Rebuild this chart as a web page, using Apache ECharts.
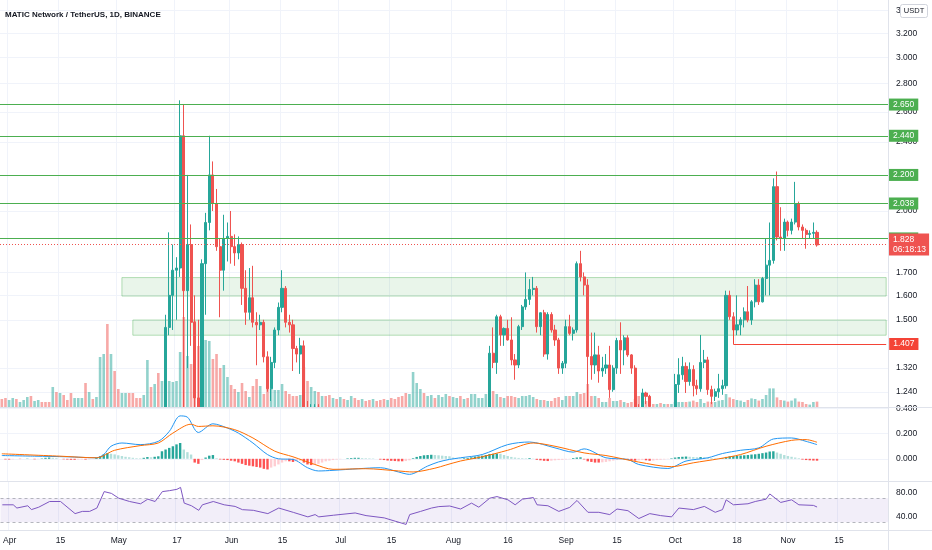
<!DOCTYPE html>
<html><head><meta charset="utf-8">
<script src="https://cdn.jsdelivr.net/npm/echarts@6/dist/echarts.min.js"></script>
<style>html,body{margin:0;padding:0;background:#fff}#c{width:932px;height:550px}</style>
</head><body><div id="c"></div>
<script>
// ---------- categories & ticks ----------
const startDate = '2021-03-30';
const dayCount = 244;
const tickDates = ['2021-04-01','2021-04-15','2021-05-01','2021-05-17','2021-06-01','2021-06-15','2021-07-01','2021-07-15','2021-08-01','2021-08-16','2021-09-01','2021-09-15','2021-10-01','2021-10-18','2021-11-01','2021-11-15'];
const tickLabels = ['Apr','15','May','17','Jun','15','Jul','15','Aug','16','Sep','15','Oct','18','Nov','15'];
const priceTicks = [1.24,1.32,1.5,1.6,1.7,2.0,2.2,2.4,2.6,2.8,3.0,3.2,3.4];
const macdTicks = [0, 0.2, 0.4];
const rsiTicks = [40, 80];

// ---------- price candles [open, close, low, high] ----------
const candlesMayJunStart = '2021-05-14';
const candlesMayJun = [
[1.05,1.47,1.00,1.52],[1.47,1.60,1.44,1.89],[1.60,1.71,1.46,1.83],[1.71,1.72,1.50,1.77],[1.72,2.44,1.68,2.68],
[2.44,1.62,1.05,2.65],[1.62,1.83,1.32,2.20],[1.83,1.49,1.40,1.93],[1.49,1.22,1.15,1.60],[1.22,1.10,0.95,1.50],
[1.10,1.74,1.05,1.76],[1.74,1.94,1.52,1.99],[1.94,2.20,1.90,2.44],[2.20,2.04,2.00,2.28],[2.04,1.82,1.80,2.12],
[1.82,1.71,1.51,1.86],[1.71,1.86,1.62,1.98],[1.86,1.87,1.75,1.94],[1.87,1.82,1.74,2.00],[1.82,1.79,1.73,1.88],
[1.79,1.83,1.76,1.87],[1.83,1.63,1.56,1.84],[1.63,1.53,1.48,1.71],[1.53,1.59,1.50,1.72],[1.59,1.49,1.47,1.73],
[1.49,1.48,1.33,1.53],[1.48,1.49,1.46,1.52],[1.49,1.36,1.34,1.50],[1.36,1.25,1.24,1.38],[1.25,1.34,1.21,1.36],
[1.34,1.46,1.32,1.47],[1.46,1.55,1.44,1.57],[1.55,1.63,1.53,1.71],[1.63,1.49,1.47,1.64],[1.49,1.48,1.45,1.52],
[1.48,1.39,1.31,1.50],[1.39,1.37,1.34,1.40],[1.37,1.40,1.30,1.43],[1.40,1.17,1.12,1.42],[1.17,1.10,1.00,1.21],
[1.10,1.17,1.08,1.20],[1.17,1.19,1.12,1.20],[1.19,1.15,1.12,1.20],[1.15,1.17,1.13,1.19],[1.17,1.12,1.10,1.18]
];
const candlesAugSepStart = '2021-08-11';
const candlesAugSep = [
[1.15,1.373,1.12,1.40],[1.373,1.34,1.32,1.47],[1.34,1.512,1.30,1.52],[1.512,1.441,1.40,1.52],[1.441,1.466,1.40,1.47],
[1.466,1.422,1.42,1.50],[1.422,1.349,1.33,1.51],[1.349,1.331,1.28,1.37],[1.331,1.473,1.32,1.48],[1.473,1.552,1.46,1.56],
[1.552,1.583,1.54,1.70],[1.583,1.625,1.56,1.67],[1.625,1.630,1.60,1.68],[1.63,1.473,1.45,1.64],[1.473,1.528,1.44,1.53],
[1.528,1.37,1.36,1.54],[1.37,1.521,1.35,1.53],[1.521,1.46,1.45,1.53],[1.46,1.422,1.40,1.48],[1.422,1.32,1.30,1.43],
[1.32,1.337,1.30,1.345],[1.337,1.473,1.32,1.50],[1.473,1.447,1.44,1.52],[1.447,1.46,1.42,1.47],[1.46,1.74,1.45,1.75],
[1.74,1.68,1.66,1.80],[1.68,1.644,1.60,1.70],[1.644,1.361,1.19,1.67],[1.361,1.331,1.28,1.45],[1.331,1.367,1.30,1.45],
[1.367,1.31,1.27,1.40],[1.31,1.32,1.29,1.36],[1.32,1.331,1.30,1.37],[1.331,1.247,1.22,1.40],[1.247,1.32,1.24,1.33],
[1.32,1.42,1.30,1.43],[1.42,1.385,1.30,1.49],[1.385,1.43,1.33,1.44],[1.43,1.367,1.36,1.44],[1.367,1.32,1.30,1.37],
[1.32,1.188,1.16,1.33],[1.188,1.15,1.12,1.20],[1.15,1.236,1.14,1.25],[1.236,1.225,1.20,1.24],[1.225,1.193,1.17,1.23]
];
const candlesOctNovStart = '2021-10-01';
const candlesOctNov = [
[1.17,1.264,1.16,1.30],[1.264,1.297,1.236,1.355],[1.297,1.326,1.28,1.36],[1.326,1.274,1.236,1.34],
[1.274,1.315,1.26,1.34],[1.315,1.26,1.225,1.33],[1.26,1.25,1.23,1.28],[1.25,1.34,1.24,1.441],[1.34,1.349,1.32,1.385],
[1.349,1.247,1.23,1.36],[1.247,1.225,1.20,1.26],[1.225,1.24,1.21,1.25],[1.24,1.25,1.22,1.30],[1.25,1.26,1.23,1.28],
[1.26,1.60,1.25,1.62],[1.60,1.512,1.50,1.62],[1.512,1.46,1.44,1.53],[1.46,1.48,1.44,1.60],[1.48,1.50,1.44,1.51],
[1.50,1.532,1.47,1.55],[1.532,1.499,1.49,1.64],[1.499,1.573,1.48,1.58],[1.573,1.644,1.55,1.67],[1.644,1.573,1.56,1.67],
[1.573,1.673,1.57,1.68],[1.673,1.733,1.60,1.858],[1.733,1.755,1.60,1.94],[1.755,2.133,1.74,2.18],[2.133,1.867,1.85,2.22],
[1.867,1.86,1.80,2.02],[1.86,1.942,1.80,1.96],[1.942,1.90,1.87,1.95],[1.90,1.942,1.88,1.96],[1.942,2.038,1.93,2.16],
[2.038,1.917,1.90,2.05],[1.917,1.90,1.86,1.93],[1.90,1.88,1.81,1.91],[1.88,1.885,1.86,1.90],[1.885,1.89,1.86,1.94],
[1.89,1.828,1.82,1.90]
];

// ---------- volume (millions), from 2021-03-30 ----------
const volumes = [
40,45,35,45,40,25,35,50,55,30, 35,25,25,25,100,75,70,60,35,70, 45,45,45,120,75,40,50,250,265,415,
265,180,90,70,70,70,70,45,45,60, 235,100,115,170,130,230,130,125,130,275, 450,255,215,430,305,320,335,330,240,265,
195,210,150,110,90,75,120,80,50,105, 140,105,65,115,90,85,85,115,80,65, 55,55,60,200,130,100,80,75,55,55,
60,45,40,50,40,35,55,45,35,40, 30,35,40,30,35,40,35,45,40,50, 55,70,65,175,120,90,70,55,60,45,
60,50,65,55,50,45,55,40,45,65, 65,45,45,65,90,80,65,50,45,55, 55,50,45,55,55,60,50,40,35,35,
30,30,45,50,35,55,55,55,75,65, 70,115,55,55,45,25,25,45,30,30, 35,25,20,25,40,55,35,30,25,15,
15,20,15,15,15,25,25,25,25,27, 32,25,40,20,27,25,25,32,35,65, 48,40,35,32,25,35,43,40,32,40,
60,93,93,48,35,32,27,32,43,27, 25,15,12,25,27
];
// up/down of volume bars on days whose candle is off the chart (from 2021-03-30)
const volDirs = ('dduuduuudu udddududdd uuududuuud udduuddddu ududuuuuuu duddduuudd duudduddud dudduuuudd ddudduudud ' +
  'dududuuddu ddudddu ddd dduuuuduud uuuduududu uuuu uuuuuuuuuu uuuuuuuuuu uuuuuuuuuu uuuuuuuuuu uuuuu dudu du').replace(/ /g,'');

// ---------- MACD (12,26,9): points [day from Apr 1, value] ----------
const macdPts = [[-2,0.026],[7,0.021],[16,0.016],[24,0.008],[26,0.034],[28,0.10],[31,0.126],[36,0.113],[41,0.139],[44,0.218],
[47,0.342],[49,0.332],[52,0.21],[56,0.279],[60,0.245],[63,0.205],[67,0.126],[71,0.034],[74,0.0],[78,-0.005],[82,-0.071],
[85,-0.097],[89,-0.092],[96,-0.079],[102,-0.071],[107,-0.105],[110,-0.124],[115,-0.058],[118,-0.025],[121,-0.005],[124,0.008],
[130,0.034],[137,0.113],[143,0.134],[150,0.087],[155,0.053],[158,0.079],[164,0.008],[170,-0.005],[173,-0.045],[181,-0.077],
[186,-0.018],[192,0.008],[196,0.042],[201,0.068],[206,0.087],[210,0.158],[215,0.166],[219,0.139],[222,0.113]];
const signalPts = [[-2,0.04],[14,0.021],[24,0.008],[29,0.068],[36,0.105],[41,0.126],[45,0.205],[50,0.276],[52,0.258],[56,0.263],
[62,0.232],[67,0.166],[73,0.061],[78,0.016],[84,-0.045],[89,-0.084],[98,-0.079],[107,-0.097],[111,-0.105],[117,-0.075],[120,-0.05],
[124,-0.018],[130,0.016],[137,0.068],[144,0.126],[150,0.10],[158,0.047],[164,0.026],[173,-0.026],[182,-0.063],[188,-0.032],
[195,0.0],[201,0.034],[208,0.10],[215,0.147],[219,0.153],[222,0.132]];
// histogram, daily from 2021-03-30
const macdHist = [
0,-0.005,-0.006,-0.004,0,-0.002,0,0.002,0,-0.004,
-0.002,0.003,0.008,0.01,0.008,0.006,0,-0.004,-0.006,-0.008,
-0.008,-0.006,-0.005,-0.006,-0.004,0,0.01,0.02,0.035,0.045,
0.04,0.035,0.028,0.022,0.016,0.012,0.008,0.005,0.004,0.008,
0.014,0.012,0.016,0.02,0.06,0.074,0.087,0.10,0.115,0.126,
0.074,0.053,0.034,-0.03,-0.04,-0.01,0.01,0.025,0.03,0.005,
-0.005,-0.008,-0.01,-0.015,-0.02,-0.03,-0.04,-0.05,-0.055,-0.06,
-0.065,-0.07,-0.08,-0.085,-0.07,-0.06,-0.045,-0.03,-0.02,-0.02,
-0.025,-0.02,-0.015,-0.03,-0.045,-0.05,-0.045,-0.04,-0.03,-0.02,
-0.015,-0.01,-0.006,-0.003,0,0.004,0.006,0.008,0.008,0.006,
0.005,0.004,0.003,0,-0.006,-0.01,-0.014,-0.016,-0.018,-0.02,
-0.02,-0.018,-0.012,0.005,0.015,0.022,0.028,0.03,0.032,0.03,
0.028,0.025,0.022,0.02,0.01,0.006,0.005,0.005,0.006,0.012,
0.018,0.02,0.025,0.03,0.038,0.04,0.042,0.04,0.03,0.022,
0.015,0.01,0.007,0.005,0.004,0.006,0.002,-0.008,-0.012,-0.016,
-0.018,-0.015,-0.012,-0.01,-0.008,-0.005,-0.003,0.006,0.01,0.012,
-0.005,-0.02,-0.025,-0.03,-0.03,-0.028,-0.025,-0.02,-0.014,-0.01,
-0.006,-0.004,-0.008,-0.012,-0.015,-0.012,-0.01,-0.012,-0.016,-0.014,
-0.01,-0.008,-0.005,-0.002,0.004,0.01,0.014,0.016,0.018,0.016,
0.014,0.012,0.014,0.012,0.008,0.006,0.004,0.003,0.005,0.015,
0.02,0.022,0.024,0.026,0.028,0.03,0.034,0.036,0.04,0.045,
0.05,0.058,0.06,0.05,0.04,0.03,0.022,0.016,0.01,0.005,
-0.006,-0.01,-0.012,-0.014,-0.015
];

// ---------- RSI(14): points [day from Apr 1, value] ----------
const rsiPts = [[-2,59],[1,59],[2,53.6],[5,57.4],[6,51],[8,55],[11,64.5],[14,64.5],[18,44.3],[20,48],[22,48],[24,53.6],[26,81],
[28,78],[30,70],[33,64.5],[36,60.7],[38,68.4],[40,64.5],[42,81],[44,82.6],[46,84.8],[47,88],[48,61.8],[50,57.4],[52,49.8],
[53,59],[56,64.5],[59,59],[62,56.3],[64,50.9],[67,49.8],[71,44.3],[74,53.6],[78,46.4],[82,38.9],[84,42.7],[85,38.9],[89,41.6],
[95,45.4],[98,41],[103,37.2],[106,31.7],[109,26.3],[110,42.7],[113,48],[116,53.6],[118,56],[121,57],[124,52],[127,61.8],
[129,55],[132,70],[134,72.7],[137,67.3],[139,59],[141,68.4],[144,71.1],[145,59],[148,57.4],[151,48],[154,54.7],[156,66.2],
[159,46.5],[162,46.5],[165,42.7],[167,52],[170,49.2],[173,36.1],[176,44.3],[179,41],[182,38.9],[184,53.6],[188,51],[191,56.3],
[194,46.5],[196,51],[197,67.3],[199,59],[203,60.7],[205,64.5],[208,68.4],[209,77.1],[212,62.9],[215,67.3],[217,59],[221,58],[222,55.3]];

// ---------- annotations ----------
const levelLines = [2.65, 2.44, 2.2, 2.038, 1.858];
const lastClose = 1.828;
const countdown = '06:18:13';
const stopLevel = 1.407, stopTop = 1.48, stopFrom = '2021-10-17';
const zoneFrom = ['2021-05-02', '2021-05-05'];
const zoneTop = [1.677, 1.499];
const zoneBottom = [1.597, 1.44];

// ---------- build ----------
const UP = '#26a69a', DOWN = '#ef5350';
const dates = [];
const t0 = new Date(startDate + 'T00:00:00Z').getTime();
for (let i = 0; i < dayCount; i++) dates.push(new Date(t0 + i * 86400000).toISOString().slice(0, 10));
const apr1 = dates.indexOf('2021-04-01');
const candleRows = [];
const candleByIdx = {};
function addSeg(start, rows) {
  const s = dates.indexOf(start);
  rows.forEach((r, k) => { candleRows.push([s + k, r[0], r[1], r[2], r[3]]); candleByIdx[s + k] = r; });
}
addSeg(candlesMayJunStart, candlesMayJun);
addSeg(candlesAugSepStart, candlesAugSep);
addSeg(candlesOctNovStart, candlesOctNov);

const volData = volumes.map((v, i) => {
  const c = candleByIdx[i];
  const up = c ? c[1] >= c[0] : (volDirs[i] || 'u') === 'u';
  return { value: v, itemStyle: { color: up ? 'rgba(38,166,154,0.5)' : 'rgba(239,83,80,0.5)' } };
});
const histData = macdHist.map((h, i) => {
  const p = i > 0 ? macdHist[i - 1] : 0;
  let col;
  if (h >= 0) col = h >= p ? '#26a69a' : '#b2dfdb';
  else col = h <= p ? '#ff5252' : '#ffcdd2';
  return { value: h, itemStyle: { color: col } };
});
const toIdx = pts => pts.map(([d, v]) => [d + apr1, v]);

const tickSet = {};
tickDates.forEach((d, k) => tickSet[d] = tickLabels[k]);
const isTick = (i, v) => tickSet[v] !== undefined;
const FONT = '"Liberation Sans",Arial,sans-serif';
const TXT = '#131722';
const GRIDC = '#f0f3fa';
const FS = 8.5;

function xAxis(gi, showLabel) {
  return {
    type: 'category', data: dates, gridIndex: gi, boundaryGap: true, z: gi >= 2 ? 4 : 0,
    axisLine: { show: false }, axisTick: { show: false },
    axisLabel: showLabel ? { show: true, interval: isTick, formatter: v => tickSet[v], color: TXT, fontSize: FS, fontFamily: FONT, margin: 6 } : { show: false },
    splitLine: { show: gi !== 1, interval: isTick, lineStyle: { color: GRIDC, width: 1 } }
  };
}
const lblBase = { show: true, position: 'end', distance: 1, color: '#fff', fontSize: FS, fontFamily: FONT, padding: [2, 4, 1, 4] };

const option = {
  animation: false,
  backgroundColor: '#fff',
  title: { text: 'MATIC Network / TetherUS, 1D, BINANCE', left: 0, top: 6, textStyle: { fontSize: 8, fontWeight: 'bold', color: TXT, fontFamily: FONT } },
  grid: [
    { left: -1, right: 44, top: -1, height: 408 },
    { left: -1, right: 44, top: 227, height: 180 },
    { left: -1, right: 44, top: 408, height: 73 },
    { left: -1, right: 44, top: 482, height: 48 }
  ],
  xAxis: [xAxis(0, false), xAxis(1, false), xAxis(2, false), xAxis(3, true)],
  yAxis: [
    { type: 'log', logBase: 10, gridIndex: 0, min: 1.191, max: 3.494, position: 'right',
      axisLine: { show: false }, axisTick: { show: false, customValues: priceTicks },
      axisLabel: { customValues: priceTicks, formatter: v => Number(v).toFixed(3), color: TXT, fontSize: FS, fontFamily: FONT, margin: 8 },
      splitLine: { show: true, lineStyle: { color: GRIDC } } },
    { type: 'value', gridIndex: 1, min: 0, max: 900, show: false },
    { type: 'value', gridIndex: 2, min: -0.177, max: 0.405, position: 'right', z: 4,
      axisLine: { show: false }, axisTick: { show: false, customValues: macdTicks },
      axisLabel: { customValues: macdTicks, formatter: v => Number(v).toFixed(3), color: TXT, fontSize: FS, fontFamily: FONT, margin: 8 },
      splitLine: { show: true, lineStyle: { color: GRIDC } } },
    { type: 'value', gridIndex: 3, min: 17, max: 97, position: 'right', z: 4,
      axisLine: { show: false }, axisTick: { show: false, customValues: rsiTicks },
      axisLabel: { customValues: rsiTicks, formatter: v => Number(v).toFixed(2), color: TXT, fontSize: FS, fontFamily: FONT, margin: 8 },
      splitLine: { show: false } }
  ],
  series: [
    { type: 'bar', xAxisIndex: 1, yAxisIndex: 1, data: volData, barWidth: 2.6, silent: true, z: 1 },
    { type: 'candlestick', xAxisIndex: 0, yAxisIndex: 0, data: candleRows, encode: { x: 0, y: [1, 2, 3, 4] },
      barWidth: 2.6, clip: true, z: 2,
      itemStyle: { color: UP, color0: DOWN, borderColor: UP, borderColor0: DOWN, borderWidth: 1 },
      markArea: { silent: true, itemStyle: { color: 'rgba(76,175,80,0.12)', borderColor: 'rgba(76,175,80,0.4)', borderWidth: 1 },
        data: zoneFrom.map((f, k) => [{ coord: [dates.indexOf(f), zoneTop[k]] }, { coord: [dayCount - 1, zoneBottom[k]] }]) },
      markLine: { silent: true, symbol: ['none', 'none'],
        data: [
          ...levelLines.map(v => ({ yAxis: v, lineStyle: { color: '#4caf50', width: 1, type: 'solid' },
            label: Object.assign({}, lblBase, { formatter: v.toFixed(3), backgroundColor: '#4caf50' }) })),
          { yAxis: lastClose, lineStyle: { color: DOWN, width: 1, type: [1, 2] },
            label: Object.assign({}, lblBase, { formatter: lastClose.toFixed(3) + '\n' + countdown, backgroundColor: DOWN, lineHeight: 10, padding: [1, 3, 1, 4] }) },
          [{ coord: [dates.indexOf(stopFrom), stopLevel], lineStyle: { color: '#f44336', width: 1, type: 'solid' },
             label: Object.assign({}, lblBase, { formatter: stopLevel.toFixed(3), backgroundColor: '#f44336', distance: 3 }) },
           { coord: [dayCount - 1, stopLevel] }],
          [{ coord: [dates.indexOf(stopFrom), stopTop], lineStyle: { color: '#f44336', width: 1, type: 'solid' }, label: { show: false } },
           { coord: [dates.indexOf(stopFrom), stopLevel] }]
        ] } },
    { type: 'bar', xAxisIndex: 2, yAxisIndex: 2, data: histData, barWidth: 2.4, silent: true, z: 5 },
    { type: 'line', xAxisIndex: 2, yAxisIndex: 2, data: toIdx(macdPts), showSymbol: false, smooth: 0.3, lineStyle: { color: '#2196f3', width: 1 }, z: 6 },
    { type: 'line', xAxisIndex: 2, yAxisIndex: 2, data: toIdx(signalPts), showSymbol: false, smooth: 0.3, lineStyle: { color: '#ff6d00', width: 1 }, z: 6 },
    { type: 'line', xAxisIndex: 3, yAxisIndex: 3, data: toIdx(rsiPts), showSymbol: false, lineStyle: { color: '#7e57c2', width: 1 }, z: 6,
      markArea: { silent: true, z: 5, itemStyle: { color: 'rgba(126,87,194,0.1)' }, data: [[{ yAxis: 30 }, { yAxis: 70 }]] },
      markLine: { silent: true, z: 5, symbol: ['none', 'none'], label: { show: false },
        lineStyle: { color: '#9598a1', type: [3, 3], width: 1, opacity: 0.7 }, data: [{ yAxis: 70 }, { yAxis: 30 }] } }
  ],
  graphic: [
    { type: 'rect', shape: { x: 0, y: 408, width: 888, height: 142 }, style: { fill: '#fff' }, z: 3, silent: true },
    { type: 'line', shape: { x1: 0, y1: 407.5, x2: 932, y2: 407.5 }, style: { stroke: '#e0e3eb', lineWidth: 1 }, z: 50, silent: true },
    { type: 'line', shape: { x1: 0, y1: 481.5, x2: 932, y2: 481.5 }, style: { stroke: '#e0e3eb', lineWidth: 1 }, z: 50, silent: true },
    { type: 'line', shape: { x1: 0, y1: 530.5, x2: 932, y2: 530.5 }, style: { stroke: '#e0e3eb', lineWidth: 1 }, z: 50, silent: true },
    { type: 'line', shape: { x1: 888.5, y1: 0, x2: 888.5, y2: 550 }, style: { stroke: '#e0e3eb', lineWidth: 1 }, z: 50, silent: true },
    { type: 'rect', shape: { x: 900.5, y: 4.5, width: 27, height: 13, r: 2 }, style: { fill: '#fff', stroke: '#d1d4dc', lineWidth: 1 }, z: 60, silent: true },
    { type: 'text', x: 914, y: 11, style: { text: 'USDT', fontSize: 7.5, fontFamily: FONT, fill: TXT, align: 'center', verticalAlign: 'middle' }, z: 61, silent: true }
  ]
};
echarts.init(document.getElementById('c')).setOption(option);
</script></body></html>
